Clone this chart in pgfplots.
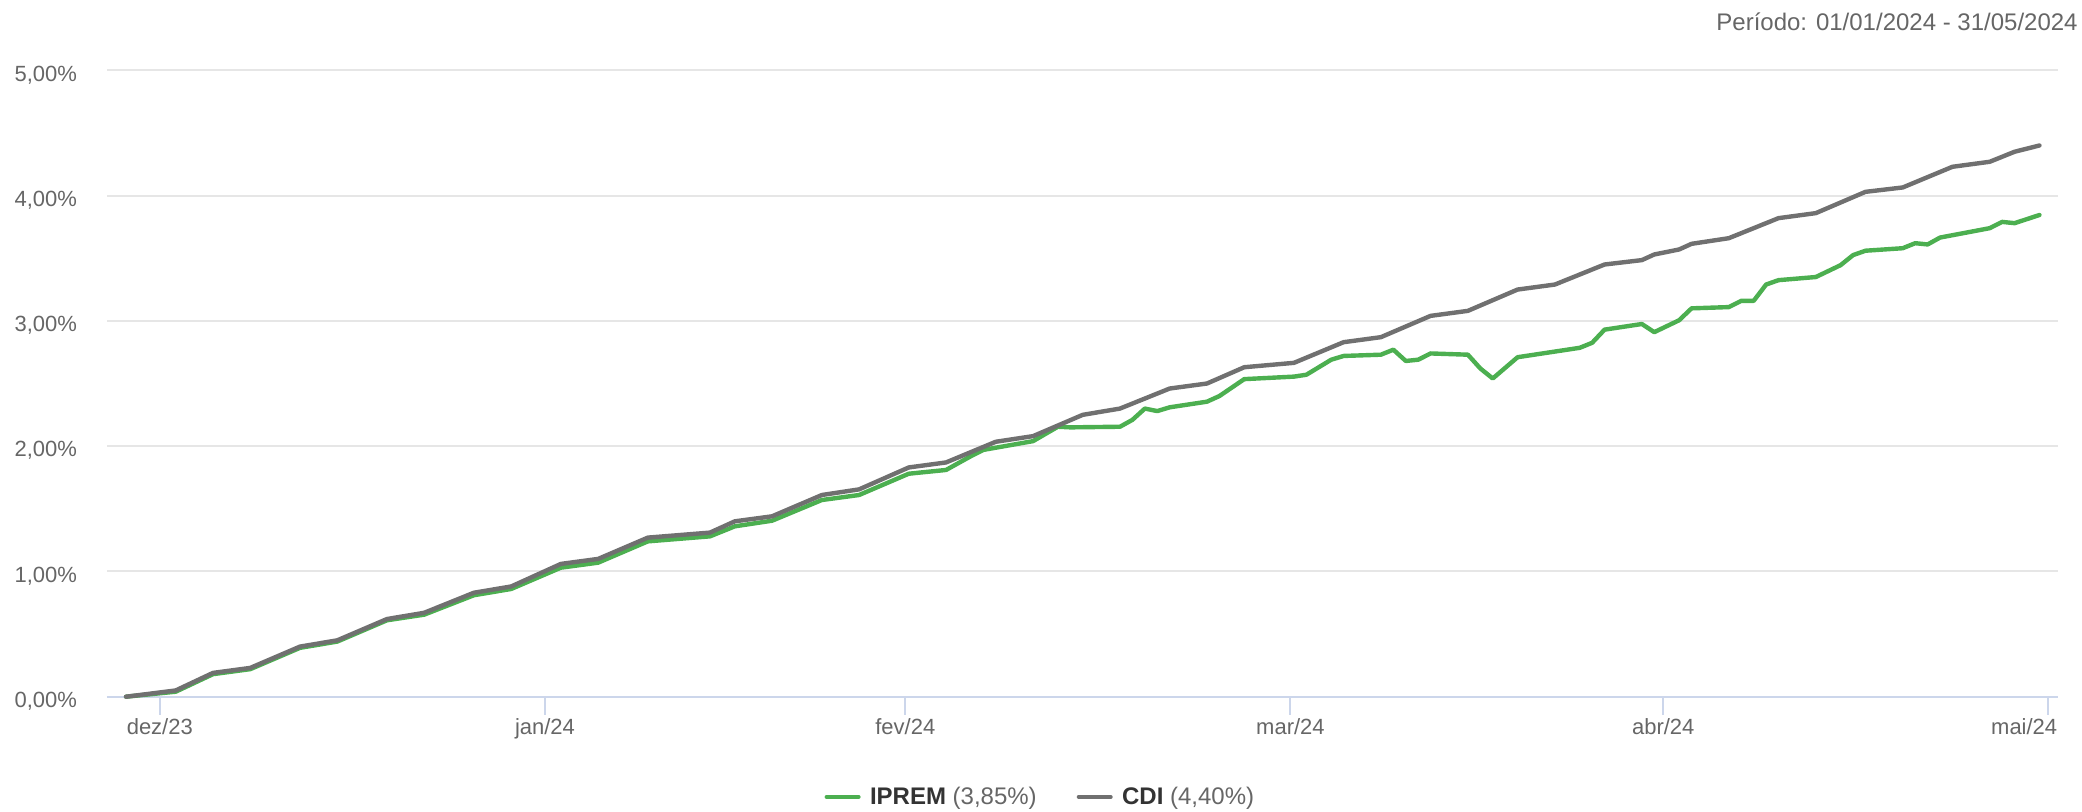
\documentclass[border=0pt]{standalone}
\usepackage{fontspec}
\setmainfont{Liberation Sans}
\usepackage{pgfplots}
\usepackage{pgfplotstable}
\pgfplotsset{compat=1.18}
\definecolor{iprem}{RGB}{76,175,80}
\definecolor{cdi}{RGB}{112,112,112}
\definecolor{gridc}{RGB}{230,230,230}
\definecolor{axc}{RGB}{204,214,235}
\definecolor{txt}{RGB}{102,102,102}
\definecolor{dark}{RGB}{51,51,51}

\pgfplotstableread{
day val
-3 0.00
1 0.04
4 0.18
7 0.22
11 0.39
14 0.44
18 0.61
21 0.655
25 0.81
28 0.86
32 1.03
35 1.07
39 1.24
44 1.28
46 1.36
49 1.405
53 1.57
56 1.61
60 1.78
63 1.81
65 1.92
66 1.97
70 2.04
72 2.155
73 2.15
77 2.155
78 2.21
79 2.30
80 2.28
81 2.31
84 2.355
85 2.40
87 2.535
91 2.555
92 2.57
94 2.69
95 2.72
98 2.73
99 2.77
100 2.68
101 2.69
102 2.74
105 2.73
106 2.62
107 2.54
109 2.71
113 2.77
114 2.785
115 2.825
116 2.93
119 2.975
120 2.91
122 3.005
123 3.10
126 3.11
127 3.16
128 3.16
129 3.29
130 3.325
133 3.35
135 3.445
136 3.525
137 3.56
140 3.58
141 3.62
142 3.61
143 3.665
147 3.74
148 3.79
149 3.78
151 3.845
}\ipremdata

\pgfplotstableread{
day val
-3 0.00
1 0.05
4 0.19
7 0.23
11 0.40
14 0.45
18 0.62
21 0.67
25 0.83
28 0.88
32 1.06
35 1.10
39 1.27
44 1.31
46 1.40
49 1.44
53 1.61
56 1.655
60 1.83
63 1.87
67 2.035
70 2.08
74 2.25
77 2.30
81 2.46
84 2.50
87 2.63
91 2.665
95 2.83
98 2.87
102 3.04
105 3.08
109 3.25
112 3.29
116 3.45
119 3.485
120 3.53
122 3.57
123 3.615
126 3.66
130 3.82
133 3.86
137 4.03
140 4.065
144 4.23
147 4.27
149 4.35
151 4.40
}\cdidata

\begin{document}
\begin{tikzpicture}
\path[use as bounding box] (-53.5pt,-57.15pt) rectangle (987.5pt,348.35pt);
\begin{axis}[
  at={(0pt,0pt)}, anchor=south west,
  scale only axis, width=975.35pt, height=313.2pt,
  xmin=-4.53, xmax=152.47, ymin=0, ymax=5,
  clip=false,
  axis x line*=bottom, axis y line*=left,
  y axis line style={draw=none},
  x axis line style={draw=axc, line width=1pt},
  xtick={-0.28,30.72,59.72,90.72,120.72},
  xticklabels={dez/23,jan/24,fev/24,mar/24,abr/24},
  extra x ticks={151.72},
  extra x tick labels={mai/24},
  extra x tick style={xticklabel style={anchor=base east, xshift=4.6pt}},
  ytick={0,1,2,3,4,5},
  yticklabels={{0,00\%},{1,00\%},{2,00\%},{3,00\%},{4,00\%},{5,00\%}},
  ymajorgrids, grid style={draw=gridc, line width=1pt},
  tick align=outside,
  major tick length=9pt,
  xtick style={draw=axc, line width=1pt},
  ytick style={draw=none},
  xticklabel style={font=\fontsize{11}{13}\selectfont, text=txt, inner sep=0pt, anchor=base, yshift=-9.65pt},
  yticklabel style={font=\fontsize{11}{13}\selectfont, text=txt, inner sep=0pt, anchor=base east, xshift=-5.8pt, yshift=-5.4pt},
  legend columns=2,
  legend style={draw=none, fill=none, at={(0.479,-0.16)}, anchor=center,
    font=\fontsize{12}{14}\selectfont, text=txt,
    /tikz/every even column/.append style={column sep=18pt}},
  legend image code/.code={\draw[#1, line width=2pt] (0pt,0pt) -- (16pt,0pt);},
]
\addplot[color=iprem, line width=2.2pt, line join=round, line cap=round] table[x=day, y=val] {\ipremdata};
\addlegendentry{\hspace{2.7pt}\textbf{\color{dark}IPREM} (3,85\%)}
\addplot[color=cdi, line width=2.2pt, line join=round, line cap=round] table[x=day, y=val] {\cdidata};
\addlegendentry{\hspace{2.7pt}\textbf{\color{dark}CDI} (4,40\%)}
\end{axis}
\node[anchor=base east, inner sep=0pt, text=txt, font=\fontsize{12}{14}\selectfont] at (985.5pt,333.35pt) {Período: 01/01/2024 - 31/05/2024};
\end{tikzpicture}
\end{document}
